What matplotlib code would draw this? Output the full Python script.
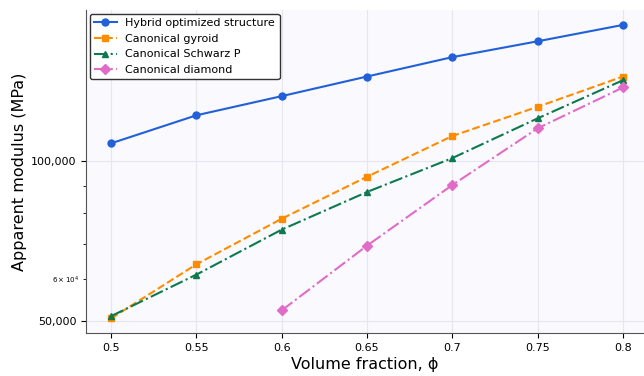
import matplotlib
matplotlib.use("Agg")

import matplotlib.pyplot as plt
from matplotlib.ticker import StrMethodFormatter

phi = [0.5, 0.55, 0.6, 0.65, 0.7, 0.75, 0.8]
hybrid = [108200, 122200, 132800, 144600, 157300, 168500, 180900]
gyroid = [50600, 64000, 78000, 93600, 111700, 126800, 144600]
schwarz = [51100, 61200, 74400, 87600, 101500, 120600, 142300]
phi_diamond = [0.6, 0.65, 0.7, 0.75, 0.8]
diamond = [52400, 69400, 90300, 115500, 137900]

xticks = [0.5, 0.55, 0.6, 0.65, 0.7, 0.75, 0.8]
xticklabels = ["0.5", "0.55", "0.6", "0.65", "0.7", "0.75", "0.8"]

fig = plt.figure(figsize=(6.44, 3.76), dpi=100)
ax = fig.add_axes([86 / 644, 43 / 376, 558 / 644, 323 / 376])
ax.set_facecolor("#f9f9fe")

ax.plot(phi, hybrid, "-o", color="#2160d8", lw=1.5, ms=5, label="Hybrid optimized structure")
ax.plot(phi, gyroid, "--s", color="#ff8c00", lw=1.5, ms=5, label="Canonical gyroid")
ax.plot(phi, schwarz, "-.^", color="#0c7a4e", lw=1.5, ms=5, label="Canonical Schwarz P")
ax.plot(phi_diamond, diamond, "-.D", color="#e06cc8", lw=1.5, ms=5, label="Canonical diamond")

ax.set_yscale("log")
ax.set_ylim(47500, 193000)
ax.set_xlim(0.4853, 0.8123)
ax.set_xticks(xticks)
ax.set_xticklabels(xticklabels)
ax.set_yticks([50000, 100000])
ax.yaxis.set_major_formatter(StrMethodFormatter("{x:,.0f}"))
ax.tick_params(axis="both", which="major", labelsize=8)
ax.tick_params(axis="y", which="minor", labelsize=5)

ax.grid(True, which="major", color="#e6e6ee", lw=0.8)
ax.spines["top"].set_visible(False)
ax.spines["right"].set_visible(False)
ax.spines["left"].set_color("#555555")
ax.spines["bottom"].set_color("#555555")

ax.set_xlabel("Volume fraction, \u03d5", fontsize=11.5, labelpad=3)
ax.set_ylabel("Apparent modulus (MPa)", fontsize=11.5, labelpad=3)

leg = ax.legend(loc="upper left", fontsize=8, frameon=True, fancybox=True,
                edgecolor="#333333", framealpha=1, borderaxespad=0.35)

fig.savefig("out.png", dpi=100)
